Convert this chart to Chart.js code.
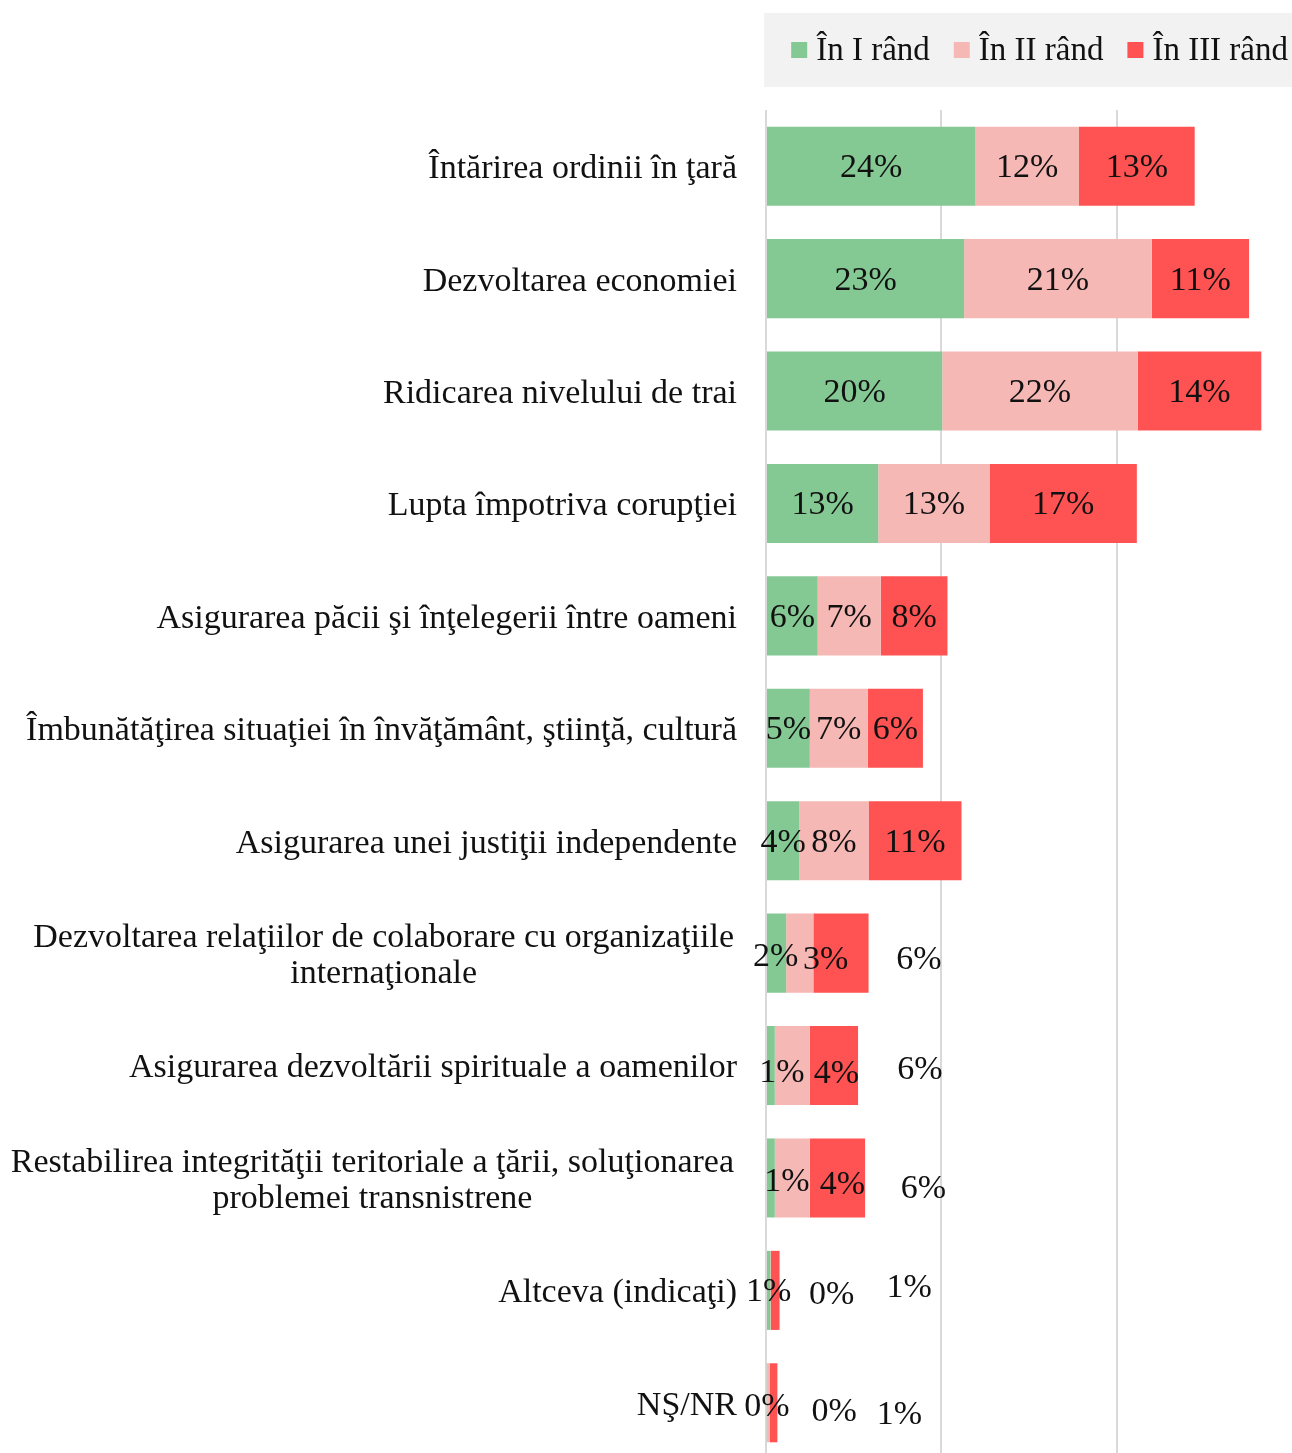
<!DOCTYPE html>
<html>
<head>
<meta charset="utf-8">
<script src="https://cdn.jsdelivr.net/npm/chart.js@4"></script>
<style>
  html, body { margin: 0; padding: 0; background: #fff; overflow: hidden; }
  canvas { display: block; }
</style>
</head>
<body>
<canvas id="chart" width="1292" height="1460"></canvas>
<script>
// Priorities: share of answers given in 1st, 2nd and 3rd place (%)
const categories = [
  "Întărirea ordinii în ţară",
  "Dezvoltarea economiei",
  "Ridicarea nivelului de trai",
  "Lupta împotriva corupţiei",
  "Asigurarea păcii şi înţelegerii între oameni",
  "Îmbunătăţirea situaţiei în învăţământ, ştiinţă, cultură",
  "Asigurarea unei justiţii independente",
  ["Dezvoltarea relaţiilor de colaborare cu organizaţiile", "internaţionale"],
  "Asigurarea dezvoltării spirituale a oamenilor",
  ["Restabilirea integrităţii teritoriale a ţării, soluţionarea", "problemei transnistrene"],
  "Altceva (indicaţi)",
  "NŞ/NR"
];
const seriesNames = ["În I rând", "În II rând", "În III rând"];
const firstPlace  = [23.9, 22.6, 20.1, 12.8, 5.9, 5.0, 3.8, 2.3, 1.0, 1.0, 0.5, 0.1];
const secondPlace = [11.8, 21.4, 22.3, 12.7, 7.2, 6.6, 7.9, 3.1, 4.0, 4.0, 0.05, 0.3];
const thirdPlace  = [13.2, 11.1, 14.1, 16.8, 7.6, 6.3, 10.6, 6.3, 5.5, 6.3, 1.0, 0.9];
const colors = ["#84c893", "#f6b8b5", "#ff5252"];

// The source moved some labels of the small bars by hand; [dx, dy] per row, per series
const labelNudge = {
  7:  [[-1, 2], [26, 5], [78, 5]],
  8:  [[11, 6], [44, 7], [86, 3]],
  9:  [[16, 2], [50, 5], [86, 9]],
  10: [[0, 0], [61, 3], [134, -4]],
  11: [[0, 2], [66, 7], [126, 10]]
};

const SERIF = '"Liberation Serif", "Times New Roman", serif';

// grey legend box at the top right
const legendBox = {
  id: "legendBox",
  afterDraw(chart) {
    const ctx = chart.ctx;
    ctx.save();
    ctx.font = "33px " + SERIF;
    const box = 16, gap = 9, spacing = 24;
    let x = chart.width - 4;
    const items = [];
    for (let i = seriesNames.length - 1; i >= 0; i--) {
      const w = ctx.measureText(seriesNames[i]).width;
      const tx = x - w;
      const bx = tx - gap - box;
      items.unshift({ tx, bx, i });
      x = bx - spacing;
    }
    const left = items[0].bx - 27;
    ctx.fillStyle = "#f2f2f2";
    ctx.fillRect(left, 13, chart.width - left, 74);
    ctx.textBaseline = "middle";
    ctx.textAlign = "left";
    items.forEach(it => {
      ctx.fillStyle = colors[it.i];
      ctx.fillRect(it.bx, 42, box, box);
      ctx.fillStyle = "#111";
      ctx.fillText(seriesNames[it.i], it.tx, 51);
    });
    ctx.restore();
  }
};

// category names left of the axis; wrapped names are centred line by line
const categoryLabels = {
  id: "categoryLabels",
  afterDraw(chart) {
    const ctx = chart.ctx, y = chart.scales.y;
    const right = chart.chartArea.left - 29;
    ctx.save();
    ctx.font = "34px " + SERIF;
    ctx.fillStyle = "#111";
    ctx.textBaseline = "middle";
    categories.forEach((c, i) => {
      const py = y.getPixelForValue(i) + 3;
      if (Array.isArray(c)) {
        const widest = Math.max(...c.map(t => ctx.measureText(t).width));
        ctx.textAlign = "center";
        const cx = right - 3 - widest / 2;
        c.forEach((t, k) => ctx.fillText(t, cx, py + (k - (c.length - 1) / 2) * 36));
      } else {
        ctx.textAlign = "right";
        ctx.fillText(c, right, py);
      }
    });
    ctx.restore();
  }
};

// value labels in the middle of each segment
const valueLabels = {
  id: "valueLabels",
  afterDatasetsDraw(chart) {
    const ctx = chart.ctx;
    ctx.save();
    ctx.font = "34px " + SERIF;
    ctx.fillStyle = "#111";
    ctx.textAlign = "center";
    ctx.textBaseline = "middle";
    chart.data.datasets.forEach((ds, d) => {
      chart.getDatasetMeta(d).data.forEach((bar, i) => {
        const n = labelNudge[i] ? labelNudge[i][d] : [0, 0];
        const cx = (bar.x + bar.base) / 2 + n[0];
        ctx.fillText(Math.round(ds.data[i]) + "%", cx, bar.y + 2 + n[1]);
      });
    });
    ctx.restore();
  }
};

new Chart(document.getElementById("chart"), {
  type: "bar",
  data: {
    labels: categories,
    datasets: [
      { label: seriesNames[0], data: firstPlace,  backgroundColor: colors[0] },
      { label: seriesNames[1], data: secondPlace, backgroundColor: colors[1] },
      { label: seriesNames[2], data: thirdPlace,  backgroundColor: colors[2] }
    ]
  },
  options: {
    responsive: false,
    animation: false,
    indexAxis: "y",
    datasets: { bar: { categoryPercentage: 1, barPercentage: 0.703, borderWidth: 0 } },
    layout: { padding: { top: 110, right: 0, bottom: 1, left: 0 } },
    plugins: { legend: { display: false }, tooltip: { enabled: false } },
    scales: {
      x: {
        stacked: true, min: 0, max: 60,
        ticks: { display: false, stepSize: 20 },
        grid: {
          color: c => (c.tick && c.tick.value >= 60 ? "rgba(0,0,0,0)" : "#d9d9d9"),
          lineWidth: 2, drawTicks: false
        },
        border: { display: false }
      },
      y: {
        stacked: true,
        ticks: { display: false },
        grid: { display: false },
        border: { display: false },
        afterFit: s => { s.width = 766; }
      }
    }
  },
  plugins: [legendBox, categoryLabels, valueLabels]
});
</script>
</body>
</html>
